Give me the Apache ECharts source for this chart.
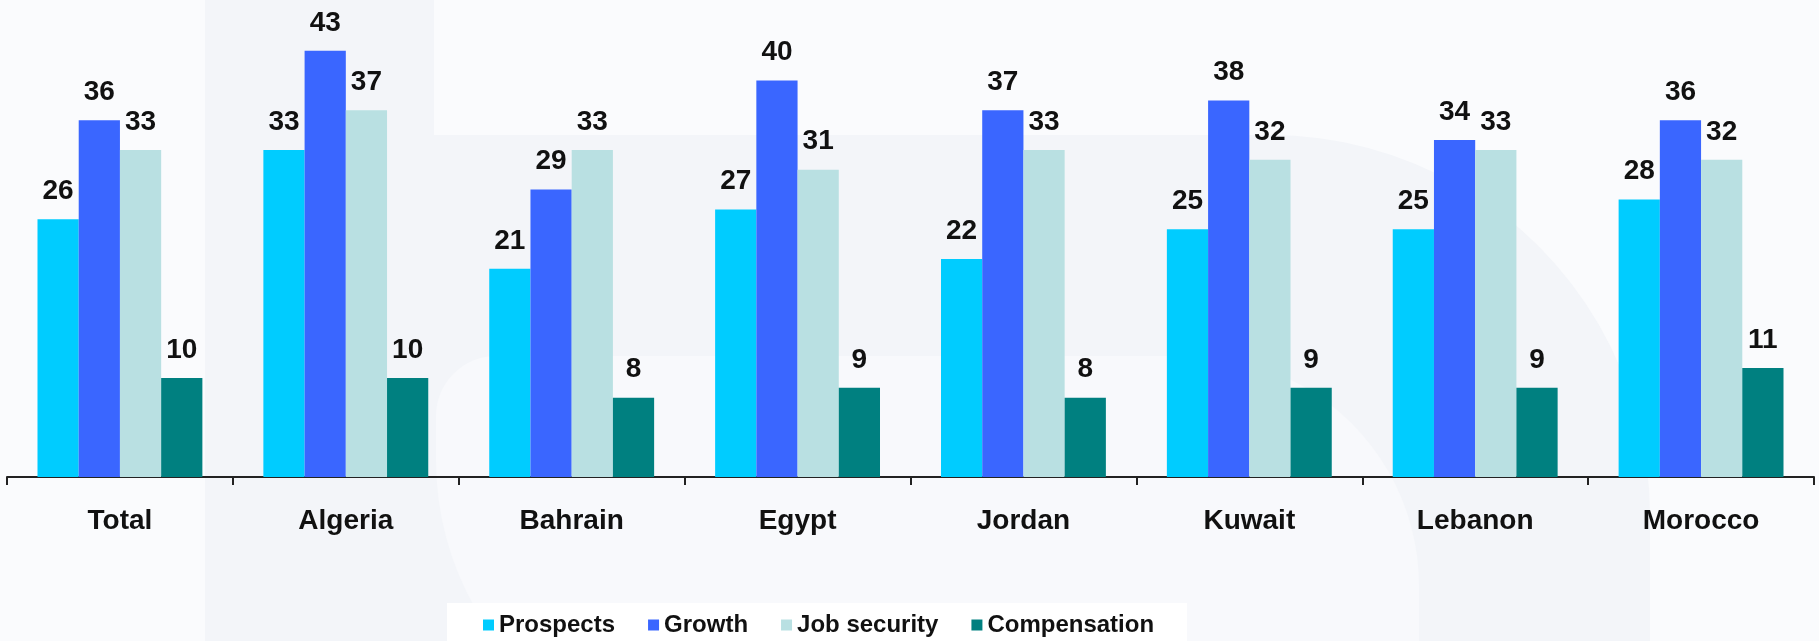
<!DOCTYPE html>
<html>
<head>
<meta charset="utf-8">
<title>Career factors by country</title>
<script src="https://cdn.jsdelivr.net/npm/echarts@6/dist/echarts.min.js"></script>
<style>
  html, body { margin: 0; padding: 0; background: #fafbfd; }
  #chart { width: 1819px; height: 641px; }
</style>
</head>
<body>
<div id="chart"></div>
<script>
// Countries along the x axis
var categories = ['Total', 'Algeria', 'Bahrain', 'Egypt', 'Jordan', 'Kuwait', 'Lebanon', 'Morocco'];

// Share of respondents (%) naming each factor
var prospects    = [26, 33, 21, 27, 22, 25, 25, 28];
var growth       = [36, 43, 29, 40, 37, 38, 34, 36];
var jobSecurity  = [33, 37, 33, 31, 33, 32, 33, 32];
var compensation = [10, 10, 8, 9, 8, 9, 9, 11];

var seriesNames  = ['Prospects', 'Growth', 'Job security', 'Compensation'];
var seriesData   = [prospects, growth, jobSecurity, compensation];
var seriesColors = ['#00ccff', '#3a66ff', '#b9e0e2', '#008080'];

var FONT = "'Liberation Sans', Arial, Helvetica, sans-serif";

// Points along a circular arc (angles in degrees, screen coordinates)
function arcPoints(cx, cy, r, fromDeg, toDeg) {
  var pts = [];
  var steps = 24;
  for (var k = 0; k <= steps; k++) {
    var a = (fromDeg + (toDeg - fromDeg) * k / steps) * Math.PI / 180;
    pts.push([cx + r * Math.cos(a), cy + r * Math.sin(a)]);
  }
  return pts;
}

// Faint backdrop emblem: a stem with a rounded bowl, and a lighter hole inside it
var emblemOuter = [[205, 0], [434, 0], [434, 135]]
  .concat(arcPoints(1270, 515, 380, 270, 360))
  .concat([[1650, 641], [205, 641]]);

var emblemHole = [[1189, 356]]
  .concat(arcPoints(1189, 586, 230, 270, 360))
  .concat([[1419, 760], [736, 760]])
  .concat(arcPoints(736, 460, 300, 90, 180))
  .concat(arcPoints(496, 416, 60, 180, 270));

var chart = echarts.init(document.getElementById('chart'), null, { renderer: 'canvas' });

var series = seriesNames.map(function (name, i) {
  return {
    name: name,
    type: 'bar',
    data: seriesData[i],
    barGap: '0%',
    barCategoryGap: '27%',
    itemStyle: { color: seriesColors[i] },
    label: {
      show: true,
      position: 'top',
      distance: 14,
      color: '#111111',
      fontFamily: FONT,
      fontWeight: 'bold',
      fontSize: 28
    },
    emphasis: { disabled: true }
  };
});

chart.setOption({
  animation: false,
  backgroundColor: '#fafbfd',
  textStyle: { fontFamily: FONT },
  graphic: {
    elements: [
      {
        type: 'polygon',
        z: 0,
        silent: true,
        shape: { points: emblemOuter },
        style: { fill: '#f3f5f9' }
      },
      {
        type: 'polygon',
        z: 0,
        silent: true,
        shape: { points: emblemHole },
        style: { fill: '#f8f9fc' }
      },
      {
        type: 'rect',
        z: 0,
        silent: true,
        shape: { x: 447, y: 603, width: 740, height: 38 },
        style: { fill: '#ffffff' }
      }
    ]
  },
  grid: {
    left: 7,
    right: 5,
    top: 31,
    bottom: 164,
    containLabel: false
  },
  legend: {
    data: seriesNames,
    left: 483,
    top: 613,
    padding: 0,
    itemWidth: 11,
    itemHeight: 11,
    itemGap: 33,
    icon: 'rect',
    textStyle: {
      fontFamily: FONT,
      fontWeight: 'bold',
      fontSize: 24,
      color: '#111111'
    }
  },
  xAxis: {
    type: 'category',
    data: categories,
    axisLine: { show: true, lineStyle: { color: '#222222', width: 2 } },
    axisTick: { show: true, length: 8, lineStyle: { color: '#222222', width: 2 } },
    axisLabel: {
      margin: 30,
      color: '#111111',
      fontFamily: FONT,
      fontWeight: 'bold',
      fontSize: 28
    },
    splitLine: { show: false }
  },
  yAxis: {
    type: 'value',
    min: 0,
    max: 45,
    show: false,
    splitLine: { show: false }
  },
  series: series
});
</script>
</body>
</html>
